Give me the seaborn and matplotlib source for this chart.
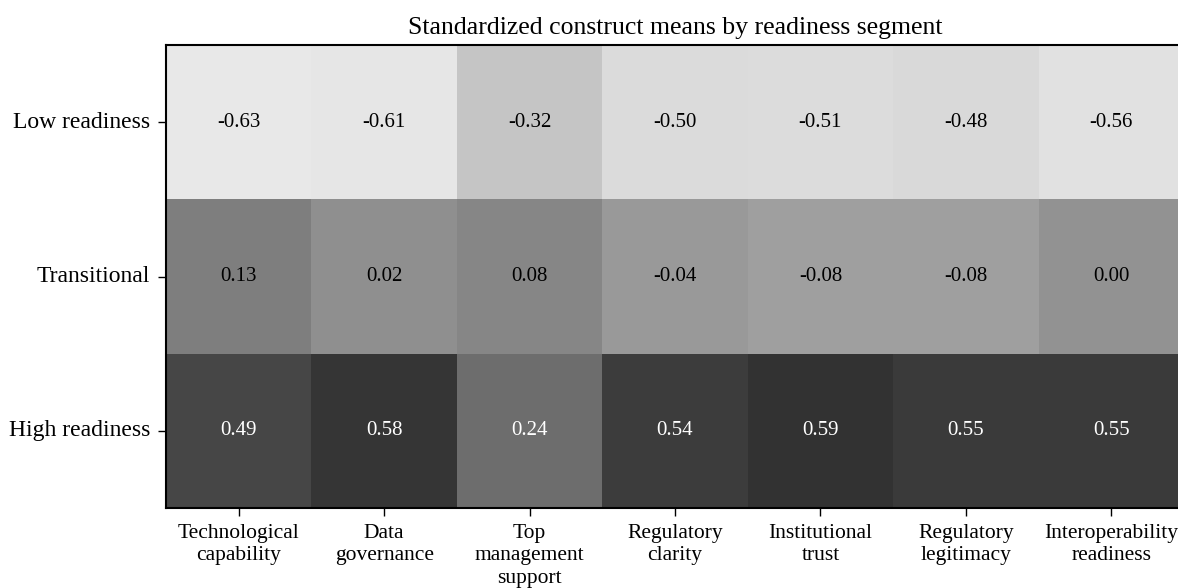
import numpy as np
import pandas as pd
import matplotlib
matplotlib.use("Agg")
import matplotlib.pyplot as plt
import seaborn as sns

segments = ["Low readiness", "Transitional", "High readiness"]
constructs = ["Technological\ncapability", "Data\ngovernance", "Top\nmanagement\nsupport",
              "Regulatory\nclarity", "Institutional\ntrust", "Regulatory\nlegitimacy",
              "Interoperability\nreadiness"]
low = [-0.63, -0.61, -0.32, -0.50, -0.51, -0.48, -0.56]
transitional = [0.13, 0.02, 0.08, -0.04, -0.08, -0.08, 0.00]
high = [0.49, 0.58, 0.24, 0.54, 0.59, 0.55, 0.55]

df = pd.DataFrame([low, transitional, high], index=segments, columns=constructs)

sns.set_style("ticks")
plt.rcParams['font.family'] = ['Liberation Serif', 'DejaVu Serif']
plt.rcParams.update({"text.color": "black", "axes.labelcolor": "black",
                     "xtick.color": "black", "ytick.color": "black"})

fig = plt.figure(figsize=(11.78, 5.88), dpi=100)
# axes run slightly past the right edge, as in the original crop
ax = fig.add_axes([166 / 1178, 1 - 508 / 588, (1184 - 166) / 1178, (508 - 45) / 588])

sns.heatmap(df, ax=ax, cmap="Greys", vmin=-0.94, vmax=0.89, cbar=False,
            annot=True, fmt=".2f", annot_kws={"fontsize": 15})

# dark row gets white labels
for txt, val in zip(ax.texts, df.values.flatten()):
    txt.set_color("white" if val >= 0.2 else "black")

for s in ax.spines.values():
    s.set_visible(True)
    s.set_linewidth(1.5)
    s.set_color("black")

ax.tick_params(axis="both", length=5.5, width=1, colors="black")
ax.tick_params(axis="y", labelsize=17, pad=6)
ax.tick_params(axis="x", labelsize=15.5, pad=6)
plt.setp(ax.get_yticklabels(), rotation=0)
plt.setp(ax.get_xticklabels(), rotation=0, ha="center", linespacing=1.25)
ax.set_xlabel("")
ax.set_ylabel("")
ax.set_title("Standardized construct means by readiness segment", fontsize=18.5, pad=8)

fig.savefig("out.png", dpi=100)
